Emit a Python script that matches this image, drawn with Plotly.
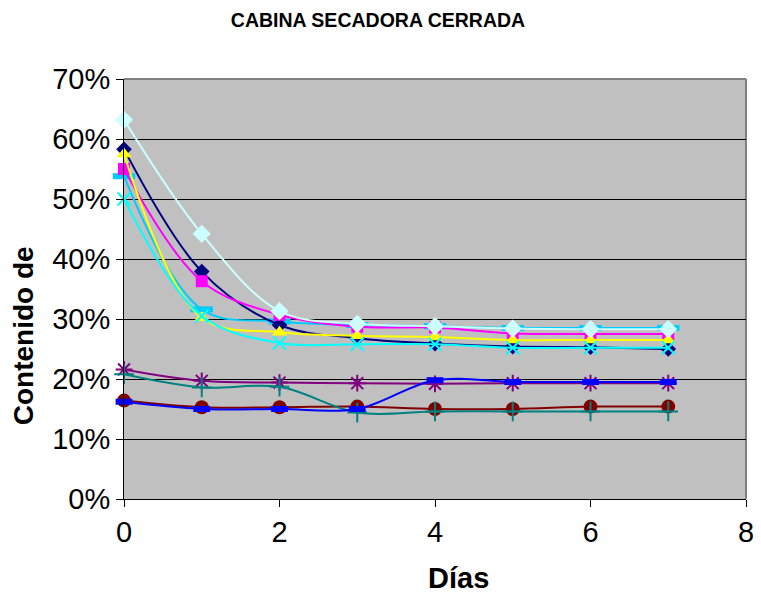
import plotly.graph_objects as go

days = [0, 1, 2, 3, 4, 5, 6, 7]

s_skyblue = [0.538, 0.316, 0.296, 0.290, 0.288, 0.285, 0.285, 0.285]
s_navy = [0.583, 0.379, 0.290, 0.268, 0.259, 0.254, 0.253, 0.250]
s_magenta = [0.550, 0.363, 0.307, 0.287, 0.286, 0.276, 0.275, 0.275]
s_yellow = [0.575, 0.302, 0.278, 0.272, 0.270, 0.265, 0.265, 0.265]
s_cyan = [0.500, 0.305, 0.260, 0.258, 0.258, 0.252, 0.252, 0.252]
s_purple = [0.216, 0.197, 0.194, 0.193, 0.192, 0.193, 0.193, 0.193]
s_darkred = [0.164, 0.153, 0.153, 0.154, 0.150, 0.150, 0.154, 0.154]
s_teal = [0.208, 0.186, 0.187, 0.144, 0.146, 0.146, 0.146, 0.146]
s_blue = [0.162, 0.150, 0.150, 0.150, 0.198, 0.195, 0.195, 0.195]
s_lightcyan = [0.632, 0.442, 0.313, 0.292, 0.288, 0.284, 0.283, 0.283]

series = [
    ("Serie 9", s_skyblue, "#00CCFF", dict(symbol="line-ew", size=16, line=dict(width=6, color="#00CCFF"))),
    ("Serie 1", s_navy, "#000080", dict(symbol="diamond", size=12, color="#000080")),
    ("Serie 2", s_magenta, "#FF00FF", dict(symbol="square", size=12, color="#FF00FF")),
    ("Serie 3", s_yellow, "#FFFF00", dict(symbol="triangle-up", size=13, color="#FFFF00")),
    ("Serie 4", s_cyan, "#00FFFF", dict(symbol="x-thin-open", size=13, line=dict(width=2, color="#00FFFF"))),
    ("Serie 5", s_purple, "#800080", dict(symbol="asterisk-open", size=14, line=dict(width=2, color="#800080"))),
    ("Serie 6", s_darkred, "#800000", dict(symbol="circle", size=14, color="#800000")),
    ("Serie 7", s_teal, "#008080", dict(symbol="cross-thin-open", size=14, line=dict(width=2, color="#008080"))),
    ("Serie 8", s_blue, "#0000FF", dict(symbol="line-ew", size=12, line=dict(width=6, color="#0000FF"))),
    ("Serie 10", s_lightcyan, "#CCFFFF", dict(symbol="diamond", size=14, color="#CCFFFF")),
]

fig = go.Figure()
for name, vals, color, marker in series:
    fig.add_trace(go.Scatter(
        x=days, y=vals, name=name, mode="lines+markers",
        line=dict(color=color, width=2, shape="spline", smoothing=1),
        marker=marker, cliponaxis=False,
    ))

font_fam = "Liberation Sans, Arial, sans-serif"

# page body adds an 8px offset; figure is sized to fit the visible window
W, H = 753, 591

fig.update_layout(
    width=W, height=H,
    margin=dict(l=116, r=15, t=71, b=100, autoexpand=False),
    paper_bgcolor="white",
    plot_bgcolor="#C0C0C0",
    showlegend=False,
    font=dict(family=font_fam, color="black"),
    title=dict(text="<b>CABINA SECADORA CERRADA</b>", x=370 / W, xanchor="center",
               xref="container", y=1 - 12 / H, yanchor="middle",
               font=dict(size=19.5, family=font_fam), automargin=False),
    xaxis=dict(range=[0, 8], dtick=2, tick0=0, showgrid=False, zeroline=False,
               showline=True, linecolor="black", linewidth=1, automargin=False,
               ticks="outside", ticklen=7, tickcolor="black",
               tickfont=dict(size=29)),
    yaxis=dict(range=[0, 0.7], dtick=0.1, tick0=0, tickformat=".0%",
               showgrid=True, gridcolor="black", gridwidth=1, zeroline=False,
               showline=True, linecolor="black", linewidth=1, automargin=False,
               ticks="outside", ticklen=7, tickcolor="black",
               tickfont=dict(size=29)),
    shapes=[dict(type="line", xref="paper", yref="paper", x0=1, x1=1, y0=0, y1=1,
                 line=dict(color="#808080", width=2), layer="below"),
            dict(type="line", xref="paper", yref="paper", x0=0, x1=1, y0=1, y1=1,
                 line=dict(color="#808080", width=2), layer="below")],
    annotations=[dict(text="<b>Contenido de</b>", xref="paper", yref="paper",
                      x=-0.162, y=0.388, textangle=-90, showarrow=False,
                      xanchor="center", yanchor="middle", font=dict(size=28)),
                 dict(text="<b>Días</b>", xref="paper", yref="paper",
                      x=0.537, y=-0.188, showarrow=False,
                      xanchor="center", yanchor="middle", font=dict(size=29))],
)

fig.write_html("out.html")
